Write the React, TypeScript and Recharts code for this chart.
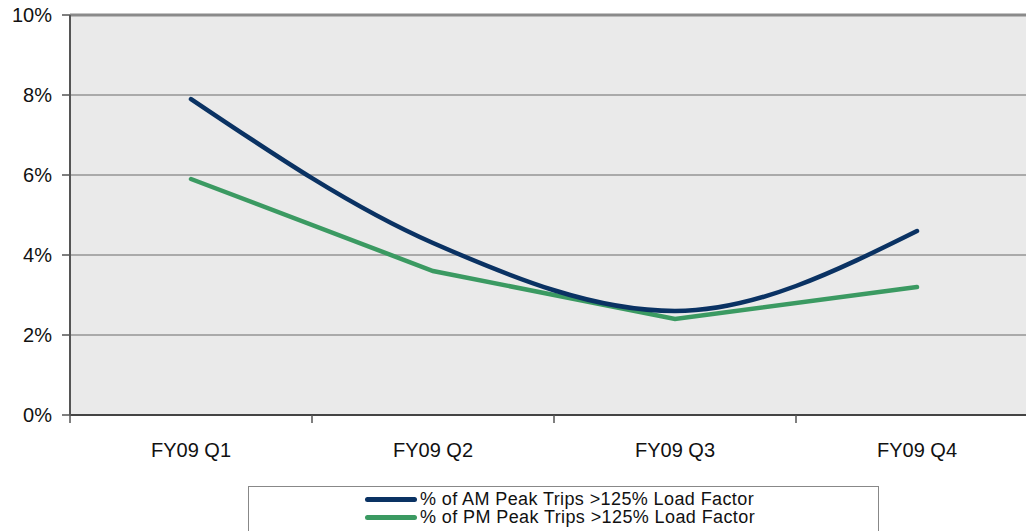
import React from "react";
import { LineChart, Line, XAxis, YAxis, CartesianGrid, ReferenceLine } from "recharts";

const categories = ["FY09 Q1", "FY09 Q2", "FY09 Q3", "FY09 Q4"];
const amValues = [7.9, 4.3, 2.6, 4.6];
const pmValues = [5.9, 3.6, 2.4, 3.2];
const yTicks = [0, 2, 4, 6, 8, 10];
const seriesNames = ["% of AM Peak Trips >125% Load Factor", "% of PM Peak Trips >125% Load Factor"];
const AM_COLOR = "#0a3263";
const PM_COLOR = "#3b9a62";
const FONT = "'Liberation Sans', Arial, Helvetica, sans-serif";

const data = categories.map((c, i) => ({ x: i + 0.5, name: c, am: amValues[i], pm: pmValues[i] }));
const xTicks: number[] = [];
for (let i = 0; i <= categories.length; i++) {
  xTicks.push(i);
  if (i < categories.length) xTicks.push(i + 0.5);
}

const XTick = (props: any) => {
  const { x, y, payload } = props;
  const v = payload.value as number;
  if (Number.isInteger(v)) {
    return <line x1={x} x2={x} y1={y} y2={y + 8} stroke="#555" strokeWidth={1.5} />;
  }
  const label = categories[Math.floor(v)];
  return (
    <text x={x} y={y + 42} textAnchor="middle" fontSize={20} fill="#111" fontFamily={FONT}>
      {label}
    </text>
  );
};

const LegendBox = () => (
  <div
    style={{
      position: "absolute",
      left: 248,
      top: 486,
      width: 631,
      height: 60,
      border: "1.5px solid #888",
      background: "#fff",
      boxSizing: "border-box",
      paddingTop: 3,
      fontFamily: FONT,
      fontSize: 18,
      letterSpacing: 0.4,
      lineHeight: "18px",
      color: "#111",
    }}
  >
    {[AM_COLOR, PM_COLOR].map((c, i) => (
      <div key={i} style={{ display: "flex", alignItems: "center", marginLeft: 116, height: 18 }}>
        <div style={{ width: 52, height: 5, borderRadius: 2.5, background: c, marginRight: 3 }} />
        <span style={{ whiteSpace: "nowrap" }}>{seriesNames[i]}</span>
      </div>
    ))}
  </div>
);

export default function App() {
  return (
    <div style={{ position: "absolute", left: 0, top: 0, width: 1026, height: 531, overflow: "hidden", background: "#fff" }}>
      <LineChart width={1042} height={531} data={data} margin={{ top: 15, right: 4, bottom: 76, left: 0 }}>
        <CartesianGrid vertical={false} fill="#eaeaea" stroke="#6a6a6a" strokeWidth={1} />
        <XAxis
          dataKey="x"
          type="number"
          domain={[0, categories.length]}
          ticks={xTicks}
          interval={0}
          tick={<XTick />}
          tickLine={false}
          tickSize={0}
          tickMargin={0}
          axisLine={{ stroke: "#444", strokeWidth: 2 }}
          height={40}
        />
        <YAxis
          domain={[0, 10]}
          ticks={yTicks}
          interval={0}
          width={70}
          tickSize={8}
          tickMargin={10}
          tickFormatter={(v: number) => `${v}%`}
          tick={{ fontSize: 20, fill: "#111", fontFamily: FONT }}
          tickLine={{ stroke: "#555", strokeWidth: 1.5 }}
          axisLine={{ stroke: "#555", strokeWidth: 2 }}
        />
        <ReferenceLine y={10} stroke="#8a8a8a" strokeWidth={3} />
        <Line type="linear" dataKey="pm" stroke={PM_COLOR} strokeWidth={4.5} dot={false} isAnimationActive={false} strokeLinecap="round" />
        <Line type="monotone" dataKey="am" stroke={AM_COLOR} strokeWidth={4.5} dot={false} isAnimationActive={false} strokeLinecap="round" />
      </LineChart>
      <LegendBox />
    </div>
  );
}
